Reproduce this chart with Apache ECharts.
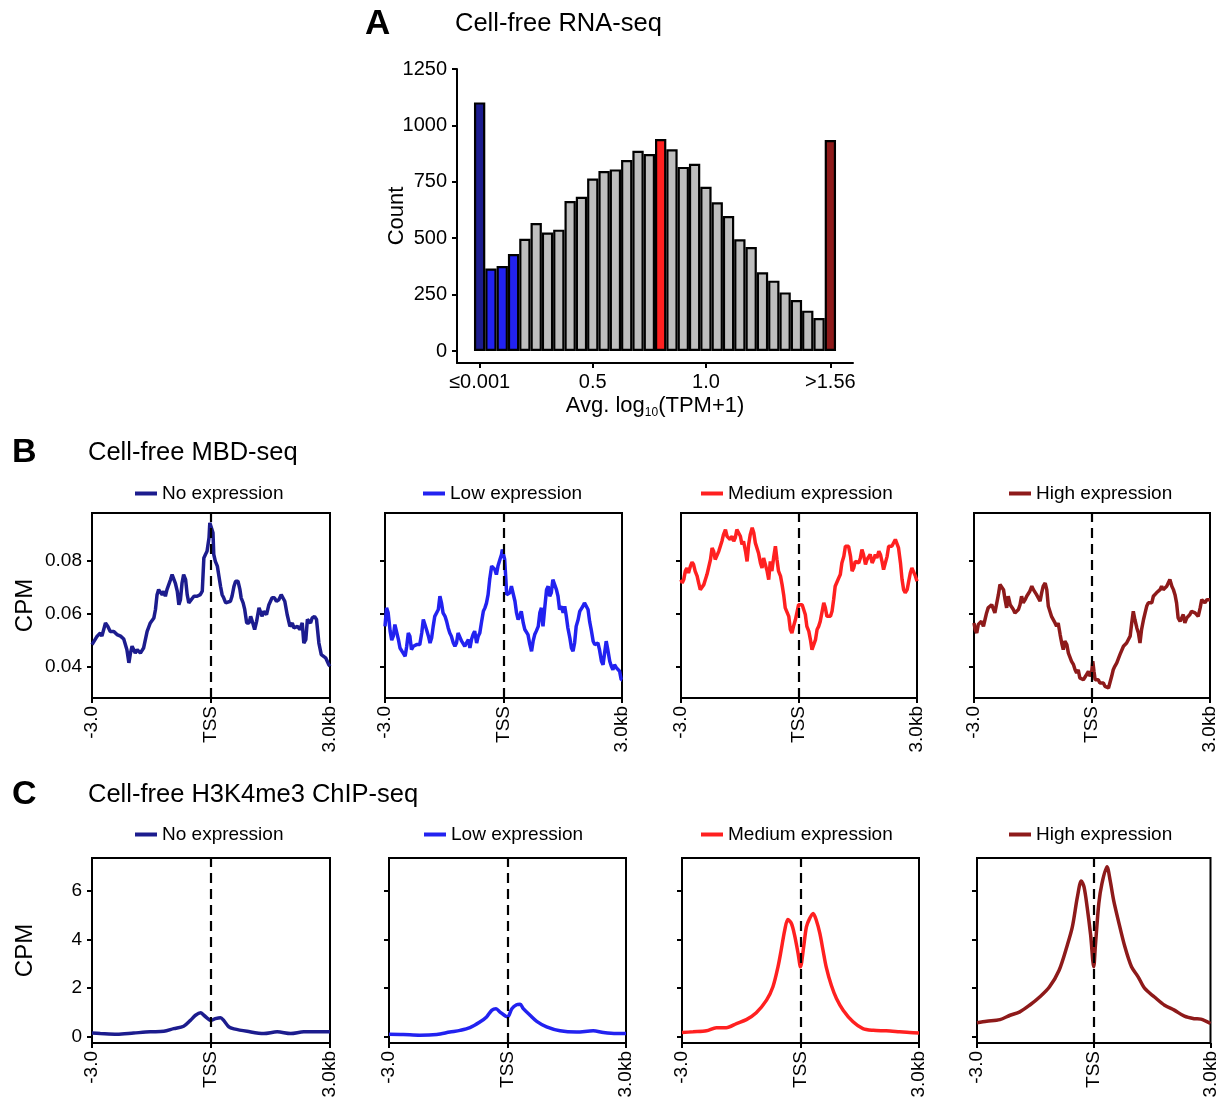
<!DOCTYPE html>
<html><head><meta charset="utf-8">
<script src="https://cdn.jsdelivr.net/npm/echarts@6/dist/echarts.min.js"></script>
<style>html,body{margin:0;padding:0;background:#fff}#c{width:1220px;height:1104px}</style>
</head><body><div id="c"></div>
<script>
const FONT = '"Liberation Sans", Arial, Helvetica, sans-serif';

// ---------- Panel A: histogram ----------
const histBins = [0,1,2,3,4,5,6,7,8,9,10,11,12,13,14,15,16,17,18,19,20,21,22,23,24,25,26,27,28,29,30,31];
const histCounts = [1102,366,377,430,498,567,525,538,665,684,765,798,805,847,888,873,940,894,816,830,728,659,598,495,461,349,312,260,226,179,146,935];
const histGroups = ['No','Low','Low','Low','','','','','','','','','','','','','Medium','','','','','','','','','','','','','','','High'];
const histTickValues = [0,10,20,31];
const histTickLabels = ['≤0.001','0.5','1.0','>1.56'];
const histYTicks = [0,250,500,750,1000,1250];

// ---------- Panels B / C ----------
const groupNames = ['No expression','Low expression','Medium expression','High expression'];
const profileTickValues = [-3,0,3];
const profileTickLabels = ['-3.0','TSS','3.0kb'];
const mbdYTicks = [0.04,0.06,0.08];
const chipYTicks = [0,2,4,6];

const mbdNo = [[-3.00,0.0482],[-2.96,0.0476],[-2.87,0.0514],[-2.79,0.0526],[-2.75,0.0514],[-2.66,0.0564],[-2.60,0.0551],[-2.54,0.0532],[-2.45,0.0532],[-2.37,0.0520],[-2.28,0.0514],[-2.20,0.0503],[-2.16,0.0501],[-2.12,0.0463],[-2.07,0.0413],[-2.03,0.0450],[-1.99,0.0476],[-1.95,0.0469],[-1.91,0.0450],[-1.86,0.0463],[-1.78,0.0450],[-1.70,0.0469],[-1.61,0.0532],[-1.53,0.0564],[-1.44,0.0583],[-1.40,0.0615],[-1.36,0.0671],[-1.32,0.0690],[-1.27,0.0697],[-1.23,0.0671],[-1.19,0.0684],[-1.15,0.0665],[-1.11,0.0690],[-1.02,0.0728],[-0.98,0.0747],[-0.94,0.0753],[-0.90,0.0715],[-0.85,0.0684],[-0.81,0.0633],[-0.77,0.0652],[-0.73,0.0715],[-0.69,0.0747],[-0.64,0.0728],[-0.60,0.0671],[-0.56,0.0640],[-0.52,0.0646],[-0.43,0.0665],[-0.35,0.0665],[-0.27,0.0671],[-0.22,0.0684],[-0.18,0.0810],[-0.14,0.0823],[-0.10,0.0835],[-0.05,0.0886],[-0.03,0.0943],[0.00,0.0949],[0.05,0.0905],[0.07,0.0823],[0.11,0.0797],[0.16,0.0779],[0.20,0.0741],[0.24,0.0703],[0.28,0.0671],[0.32,0.0659],[0.37,0.0640],[0.41,0.0640],[0.49,0.0646],[0.53,0.0665],[0.58,0.0703],[0.62,0.0722],[0.68,0.0722],[0.73,0.0690],[0.76,0.0659],[0.81,0.0640],[0.85,0.0615],[0.90,0.0564],[0.96,0.0564],[1.00,0.0589],[1.04,0.0570],[1.10,0.0539],[1.15,0.0570],[1.21,0.0621],[1.25,0.0621],[1.29,0.0589],[1.33,0.0608],[1.40,0.0596],[1.46,0.0633],[1.54,0.0659],[1.60,0.0659],[1.65,0.0646],[1.71,0.0652],[1.77,0.0671],[1.82,0.0678],[1.86,0.0646],[1.92,0.0596],[1.99,0.0551],[2.05,0.0564],[2.09,0.0545],[2.18,0.0551],[2.24,0.0539],[2.30,0.0564],[2.34,0.0488],[2.39,0.0501],[2.43,0.0577],[2.47,0.0583],[2.51,0.0564],[2.55,0.0583],[2.61,0.0589],[2.66,0.0577],[2.72,0.0488],[2.78,0.0444],[2.83,0.0450],[2.89,0.0432],[2.93,0.0432],[2.97,0.0406],[3.00,0.0400]];

const mbdLow = [[-3.00,0.0551],[-2.96,0.0621],[-2.92,0.0602],[-2.87,0.0533],[-2.83,0.0499],[-2.79,0.0514],[-2.75,0.0558],[-2.71,0.0551],[-2.66,0.0501],[-2.62,0.0469],[-2.58,0.0463],[-2.54,0.0450],[-2.49,0.0438],[-2.45,0.0476],[-2.41,0.0526],[-2.37,0.0514],[-2.33,0.0463],[-2.28,0.0476],[-2.20,0.0482],[-2.12,0.0482],[-2.07,0.0526],[-2.03,0.0577],[-1.99,0.0570],[-1.95,0.0539],[-1.90,0.0514],[-1.86,0.0488],[-1.82,0.0507],[-1.78,0.0551],[-1.74,0.0589],[-1.69,0.0589],[-1.65,0.0615],[-1.61,0.0665],[-1.57,0.0640],[-1.53,0.0602],[-1.48,0.0589],[-1.44,0.0570],[-1.40,0.0545],[-1.36,0.0526],[-1.32,0.0514],[-1.27,0.0488],[-1.23,0.0476],[-1.19,0.0488],[-1.15,0.0526],[-1.10,0.0520],[-1.06,0.0495],[-1.02,0.0488],[-0.98,0.0476],[-0.94,0.0488],[-0.89,0.0501],[-0.85,0.0469],[-0.81,0.0501],[-0.77,0.0520],[-0.73,0.0533],[-0.68,0.0488],[-0.64,0.0514],[-0.60,0.0526],[-0.56,0.0564],[-0.51,0.0608],[-0.47,0.0621],[-0.43,0.0640],[-0.39,0.0671],[-0.35,0.0728],[-0.30,0.0779],[-0.26,0.0785],[-0.22,0.0766],[-0.18,0.0747],[-0.14,0.0779],[-0.09,0.0804],[-0.05,0.0823],[-0.03,0.0842],[0.01,0.0848],[0.03,0.0804],[0.06,0.0728],[0.08,0.0671],[0.12,0.0665],[0.16,0.0678],[0.20,0.0703],[0.24,0.0703],[0.29,0.0646],[0.33,0.0602],[0.37,0.0577],[0.41,0.0589],[0.45,0.0608],[0.50,0.0564],[0.54,0.0539],[0.58,0.0539],[0.62,0.0520],[0.66,0.0488],[0.71,0.0457],[0.75,0.0495],[0.79,0.0520],[0.83,0.0533],[0.88,0.0551],[0.92,0.0602],[0.96,0.0621],[0.98,0.0577],[1.00,0.0551],[1.04,0.0615],[1.09,0.0690],[1.13,0.0703],[1.17,0.0665],[1.21,0.0678],[1.25,0.0728],[1.30,0.0728],[1.34,0.0690],[1.38,0.0665],[1.42,0.0615],[1.47,0.0627],[1.51,0.0602],[1.55,0.0627],[1.59,0.0589],[1.63,0.0545],[1.68,0.0507],[1.72,0.0469],[1.76,0.0457],[1.80,0.0488],[1.84,0.0551],[1.89,0.0577],[1.93,0.0608],[1.97,0.0615],[2.01,0.0627],[2.05,0.0640],[2.10,0.0633],[2.14,0.0615],[2.18,0.0570],[2.22,0.0539],[2.27,0.0495],[2.31,0.0482],[2.35,0.0488],[2.39,0.0488],[2.43,0.0463],[2.48,0.0419],[2.52,0.0406],[2.56,0.0450],[2.60,0.0495],[2.64,0.0463],[2.69,0.0419],[2.73,0.0400],[2.77,0.0387],[2.81,0.0406],[2.86,0.0394],[2.90,0.0400],[2.94,0.0381],[2.98,0.0349],[3.00,0.0349]];

const mbdMedium = [[-3.00,0.0728],[-2.97,0.0715],[-2.93,0.0728],[-2.89,0.0760],[-2.85,0.0772],[-2.81,0.0753],[-2.76,0.0779],[-2.72,0.0794],[-2.68,0.0785],[-2.64,0.0760],[-2.59,0.0741],[-2.55,0.0715],[-2.51,0.0690],[-2.47,0.0684],[-2.42,0.0709],[-2.38,0.0728],[-2.34,0.0747],[-2.30,0.0772],[-2.25,0.0804],[-2.21,0.0848],[-2.17,0.0835],[-2.13,0.0804],[-2.08,0.0810],[-2.04,0.0835],[-2.00,0.0854],[-1.96,0.0873],[-1.92,0.0898],[-1.87,0.0917],[-1.83,0.0892],[-1.79,0.0898],[-1.75,0.0880],[-1.70,0.0892],[-1.66,0.0873],[-1.62,0.0886],[-1.58,0.0917],[-1.53,0.0924],[-1.49,0.0892],[-1.45,0.0861],[-1.41,0.0873],[-1.36,0.0835],[-1.32,0.0797],[-1.28,0.0861],[-1.24,0.0898],[-1.19,0.0924],[-1.15,0.0905],[-1.11,0.0867],[-1.07,0.0867],[-1.03,0.0829],[-0.98,0.0791],[-0.94,0.0772],[-0.90,0.0810],[-0.86,0.0804],[-0.81,0.0760],[-0.77,0.0728],[-0.73,0.0797],[-0.69,0.0760],[-0.64,0.0816],[-0.60,0.0854],[-0.56,0.0804],[-0.52,0.0760],[-0.47,0.0741],[-0.43,0.0709],[-0.39,0.0671],[-0.35,0.0621],[-0.31,0.0615],[-0.26,0.0589],[-0.22,0.0539],[-0.18,0.0526],[-0.14,0.0551],[-0.09,0.0577],[-0.05,0.0583],[-0.01,0.0633],[0.03,0.0633],[0.08,0.0633],[0.12,0.0627],[0.16,0.0596],[0.20,0.0551],[0.25,0.0532],[0.29,0.0501],[0.33,0.0463],[0.37,0.0469],[0.42,0.0501],[0.46,0.0539],[0.50,0.0551],[0.54,0.0570],[0.58,0.0577],[0.63,0.0640],[0.67,0.0621],[0.71,0.0589],[0.75,0.0583],[0.80,0.0589],[0.84,0.0608],[0.88,0.0652],[0.92,0.0703],[0.97,0.0703],[1.01,0.0734],[1.05,0.0747],[1.09,0.0791],[1.14,0.0816],[1.18,0.0854],[1.22,0.0861],[1.26,0.0854],[1.31,0.0816],[1.35,0.0760],[1.39,0.0772],[1.43,0.0797],[1.47,0.0804],[1.52,0.0791],[1.56,0.0810],[1.60,0.0842],[1.64,0.0823],[1.69,0.0785],[1.73,0.0804],[1.77,0.0814],[1.81,0.0823],[1.86,0.0791],[1.90,0.0804],[1.94,0.0823],[1.98,0.0810],[2.03,0.0835],[2.07,0.0823],[2.11,0.0797],[2.15,0.0766],[2.19,0.0766],[2.24,0.0816],[2.28,0.0854],[2.32,0.0848],[2.36,0.0854],[2.41,0.0861],[2.45,0.0880],[2.49,0.0880],[2.53,0.0848],[2.58,0.0791],[2.62,0.0728],[2.66,0.0690],[2.70,0.0678],[2.75,0.0690],[2.79,0.0722],[2.83,0.0753],[2.87,0.0772],[2.92,0.0766],[2.96,0.0741],[3.00,0.0722]];

const mbdHigh = [[-3.00,0.0564],[-2.97,0.0539],[-2.93,0.0526],[-2.89,0.0558],[-2.85,0.0551],[-2.81,0.0570],[-2.76,0.0551],[-2.72,0.0577],[-2.68,0.0602],[-2.64,0.0621],[-2.59,0.0615],[-2.55,0.0633],[-2.51,0.0627],[-2.47,0.0602],[-2.42,0.0640],[-2.38,0.0671],[-2.34,0.0709],[-2.30,0.0715],[-2.25,0.0690],[-2.21,0.0652],[-2.17,0.0621],[-2.13,0.0665],[-2.08,0.0633],[-2.04,0.0627],[-2.00,0.0615],[-1.96,0.0602],[-1.92,0.0596],[-1.87,0.0615],[-1.83,0.0633],[-1.79,0.0665],[-1.75,0.0640],[-1.70,0.0652],[-1.66,0.0665],[-1.62,0.0671],[-1.58,0.0684],[-1.53,0.0703],[-1.49,0.0690],[-1.45,0.0697],[-1.41,0.0671],[-1.36,0.0665],[-1.32,0.0646],[-1.28,0.0678],[-1.24,0.0703],[-1.19,0.0715],[-1.15,0.0690],[-1.11,0.0627],[-1.07,0.0608],[-1.03,0.0589],[-0.98,0.0583],[-0.94,0.0564],[-0.90,0.0551],[-0.86,0.0564],[-0.81,0.0520],[-0.77,0.0488],[-0.73,0.0463],[-0.69,0.0495],[-0.64,0.0482],[-0.60,0.0450],[-0.56,0.0444],[-0.52,0.0419],[-0.47,0.0406],[-0.43,0.0387],[-0.39,0.0375],[-0.35,0.0387],[-0.31,0.0356],[-0.26,0.0349],[-0.22,0.0349],[-0.18,0.0356],[-0.14,0.0368],[-0.09,0.0381],[-0.05,0.0362],[-0.01,0.0375],[0.02,0.0419],[0.05,0.0381],[0.08,0.0349],[0.12,0.0349],[0.16,0.0349],[0.20,0.0337],[0.25,0.0343],[0.29,0.0337],[0.33,0.0324],[0.37,0.0318],[0.42,0.0318],[0.46,0.0324],[0.50,0.0362],[0.54,0.0387],[0.58,0.0400],[0.63,0.0413],[0.67,0.0419],[0.71,0.0444],[0.75,0.0450],[0.80,0.0476],[0.84,0.0482],[0.88,0.0488],[0.92,0.0488],[0.97,0.0514],[1.01,0.0564],[1.05,0.0608],[1.09,0.0577],[1.14,0.0545],[1.18,0.0526],[1.22,0.0488],[1.26,0.0539],[1.31,0.0577],[1.35,0.0602],[1.39,0.0627],[1.43,0.0640],[1.47,0.0646],[1.52,0.0640],[1.56,0.0665],[1.60,0.0671],[1.64,0.0678],[1.69,0.0671],[1.73,0.0690],[1.77,0.0703],[1.81,0.0690],[1.86,0.0697],[1.90,0.0703],[1.94,0.0709],[1.98,0.0728],[2.03,0.0703],[2.07,0.0690],[2.11,0.0671],[2.15,0.0640],[2.19,0.0583],[2.24,0.0570],[2.28,0.0577],[2.32,0.0596],[2.36,0.0564],[2.41,0.0583],[2.45,0.0589],[2.49,0.0596],[2.53,0.0608],[2.58,0.0615],[2.62,0.0602],[2.66,0.0608],[2.70,0.0589],[2.75,0.0621],[2.79,0.0652],[2.83,0.0659],[2.87,0.0640],[2.92,0.0652],[2.96,0.0646],[3.00,0.0652]];

const chipNo = [[-3.00,0.16],[-2.79,0.14],[-2.37,0.11],[-1.95,0.16],[-1.53,0.21],[-1.19,0.23],[-0.94,0.34],[-0.69,0.44],[-0.52,0.68],[-0.39,0.89],[-0.26,0.99],[-0.18,0.89],[0.00,0.68],[0.11,0.75],[0.24,0.79],[0.32,0.68],[0.45,0.41],[0.58,0.33],[0.91,0.23],[1.33,0.14],[1.67,0.21],[2.01,0.14],[2.34,0.21],[2.68,0.21],[3.00,0.21]];
const chipLow = [[-3.00,0.11],[-2.64,0.10],[-2.22,0.07],[-1.79,0.10],[-1.46,0.20],[-1.20,0.27],[-0.95,0.38],[-0.70,0.61],[-0.53,0.82],[-0.40,1.09],[-0.29,1.16],[-0.19,1.02],[0.00,0.82],[0.11,1.16],[0.23,1.32],[0.32,1.34],[0.40,1.16],[0.57,0.89],[0.74,0.64],[0.99,0.41],[1.33,0.25],[1.75,0.20],[2.17,0.25],[2.43,0.18],[2.76,0.14],[3.00,0.14]];
const chipMedium = [[-3.00,0.18],[-2.72,0.21],[-2.38,0.25],[-2.13,0.38],[-1.88,0.38],[-1.62,0.55],[-1.37,0.71],[-1.12,0.99],[-0.86,1.51],[-0.70,2.05],[-0.57,2.88],[-0.49,3.56],[-0.40,4.38],[-0.32,4.82],[-0.23,4.66],[-0.15,4.18],[-0.06,3.42],[0.00,2.88],[0.08,3.70],[0.15,4.52],[0.23,4.86],[0.32,5.07],[0.40,4.79],[0.49,4.25],[0.57,3.56],[0.65,2.88],[0.78,2.12],[0.91,1.58],[1.08,1.10],[1.33,0.62],[1.58,0.34],[1.84,0.27],[2.17,0.25],[2.51,0.21],[2.76,0.18],[3.00,0.16]];
const chipHigh = [[-3.00,0.58],[-2.75,0.64],[-2.41,0.71],[-2.15,0.89],[-1.90,1.03],[-1.65,1.30],[-1.39,1.64],[-1.14,2.05],[-0.89,2.74],[-0.68,3.77],[-0.55,4.52],[-0.42,5.75],[-0.32,6.41],[-0.25,6.16],[-0.17,5.34],[-0.08,4.18],[0.00,2.88],[0.04,3.70],[0.13,5.48],[0.21,6.30],[0.34,6.99],[0.42,6.44],[0.51,5.62],[0.63,4.79],[0.80,3.70],[0.97,2.88],[1.14,2.47],[1.31,1.99],[1.56,1.64],[1.82,1.30],[2.07,1.10],[2.33,0.85],[2.58,0.75],[2.75,0.73],[3.00,0.55]];

// ---------- styling ----------
const groupColors = {No:'#1c1c8e', Low:'#2222f0', Medium:'#ff2020', High:'#8e1a1a', '':'#bebebe'};
const lineColors = [groupColors.No, groupColors.Low, groupColors.Medium, groupColors.High];
const mbdSeries = [mbdNo, mbdLow, mbdMedium, mbdHigh];
const chipSeries = [chipNo, chipLow, chipMedium, chipHigh];

const bGrids = [[92,238],[385,237],[681,236],[974,236]];
const cGrids = [[92,238],[389,237],[682,237],[977,236]];
const bLegendLeft = [135,423,701,1009];
const cLegendLeft = [135,424,701,1009];

const grids = [{left:457, top:69, width:396, height:294}];
const xAxes = [{
  gridIndex:0, type:'value', min:-2, max:33,
  axisLine:{show:true, onZero:false, lineStyle:{color:'#000', width:2}},
  axisTick:{show:true, customValues:histTickValues, length:5, lineStyle:{color:'#000', width:2}},
  axisLabel:{customValues:histTickValues, color:'#000', fontSize:20, margin:9,
    formatter:(v)=>{const i=histTickValues.indexOf(v); return i>=0?histTickLabels[i]:'';}},
  splitLine:{show:false},
  name:'{a|Avg. log}{s|10}{a|(TPM+1)}', nameLocation:'middle', nameGap:30, nameMoveOverlap:false,
  nameTextStyle:{color:'#000', rich:{a:{fontSize:22, color:'#000', fontFamily:FONT, lineHeight:26}, s:{fontSize:12, color:'#000', fontFamily:FONT, lineHeight:26, verticalAlign:'bottom', padding:[6,0,0,0]}}}
}];
const yAxes = [{
  gridIndex:0, type:'value', min:-53, max:1250,
  axisLine:{show:true, onZero:false, lineStyle:{color:'#000', width:2}},
  axisTick:{show:true, customValues:histYTicks, length:5, lineStyle:{color:'#000', width:2}},
  axisLabel:{customValues:histYTicks, color:'#000', fontSize:20, margin:10, formatter:(v)=>String(v)},
  splitLine:{show:false},
  name:'Count', nameLocation:'middle', nameGap:49, nameMoveOverlap:false, nameTextStyle:{color:'#000', fontSize:22}
}];
const series = [{
  type:'bar', xAxisIndex:0, yAxisIndex:0, barWidth:'100%',
  data: histBins.map((b,i)=>({value:[b, histCounts[i]], itemStyle:{color:groupColors[histGroups[i]]}})),
  itemStyle:{borderColor:'#000', borderWidth:2.2}
}];
const legends = [];

function addPanel(geom, top, data, yMin, yMax, yTicks, gi, colorIdx, first, legendLeft, legendTop) {
  grids.push({left:geom[0], width:geom[1], top:top, height:185, show:true, borderColor:'#000', borderWidth:2, backgroundColor:'transparent'});
  xAxes.push({
    gridIndex:gi, type:'value', min:-3, max:3,
    axisLine:{show:false, onZero:false},
    axisTick:{show:true, customValues:profileTickValues, length:5, lineStyle:{color:'#000', width:2}},
    axisLabel:{customValues:profileTickValues, rotate:90, color:'#000', fontSize:19, margin:8,
      formatter:(v)=>{const i=profileTickValues.indexOf(v); return i>=0?profileTickLabels[i]:'';}},
    splitLine:{show:false}
  });
  const ya = {
    gridIndex:gi, type:'value', min:yMin, max:yMax,
    axisLine:{show:false, onZero:false},
    axisTick:{show:true, customValues:yTicks, length:5, lineStyle:{color:'#000', width:2}},
    axisLabel:{show:first, customValues:yTicks, color:'#000', fontSize:19, margin:10},
    splitLine:{show:false}
  };
  if (first) { ya.name='CPM'; ya.nameLocation='middle'; ya.nameGap=55; ya.nameMoveOverlap=false; ya.nameTextStyle={color:'#000', fontSize:24}; }
  yAxes.push(ya);
  series.push({
    type:'line', name:groupNames[colorIdx], xAxisIndex:gi, yAxisIndex:gi, data:data,
    showSymbol:false, symbol:'none', smooth: top > 800 ? 0.3 : false,
    lineStyle:{color:lineColors[colorIdx], width:3.5}, itemStyle:{color:lineColors[colorIdx]},
    markLine:{silent:true, symbol:['none','none'], label:{show:false}, animation:false,
      lineStyle:{color:'#000', type:[10,6], width:2.2}, data:[{xAxis:0}]}
  });
  legends.push({data:[groupNames[colorIdx]], left:legendLeft, top:legendTop, icon:'rect', itemWidth:22, itemHeight:4,
    padding:0, selectedMode:false, textStyle:{fontSize:19, color:'#000', fontFamily:FONT}});
}

for (let k=0;k<4;k++) addPanel(bGrids[k], 513, mbdSeries[k], 0.028, 0.098, mbdYTicks, 1+k, k, k===0, bLegendLeft[k], 484);
for (let k=0;k<4;k++) addPanel(cGrids[k], 858, chipSeries[k], -0.25, 7.35, chipYTicks, 5+k, k, k===0, cLegendLeft[k], 825);

const titleStyle = (fs, bold)=>({fontSize:fs, fontWeight:bold?'bold':'normal', color:'#000', fontFamily:FONT});
const option = {
  animation:false,
  backgroundColor:'#fff',
  textStyle:{fontFamily:FONT},
  title:[
    {text:'A', left:365, top:7, padding:0, textStyle:titleStyle(35,true)},
    {text:'Cell-free RNA-seq', left:455, top:11, padding:0, textStyle:titleStyle(25.5,false)},
    {text:'B', left:12, top:436, padding:0, textStyle:titleStyle(34,true)},
    {text:'Cell-free MBD-seq', left:88, top:440, padding:0, textStyle:titleStyle(25.5,false)},
    {text:'C', left:12, top:778, padding:0, textStyle:titleStyle(34,true)},
    {text:'Cell-free H3K4me3 ChIP-seq', left:88, top:782, padding:0, textStyle:titleStyle(25.5,false)}
  ],
  legend: legends,
  grid: grids,
  xAxis: xAxes,
  yAxis: yAxes,
  series: series
};
const chart = echarts.init(document.getElementById('c'), null, {renderer:'canvas'});
chart.setOption(option);
</script>
</body></html>
